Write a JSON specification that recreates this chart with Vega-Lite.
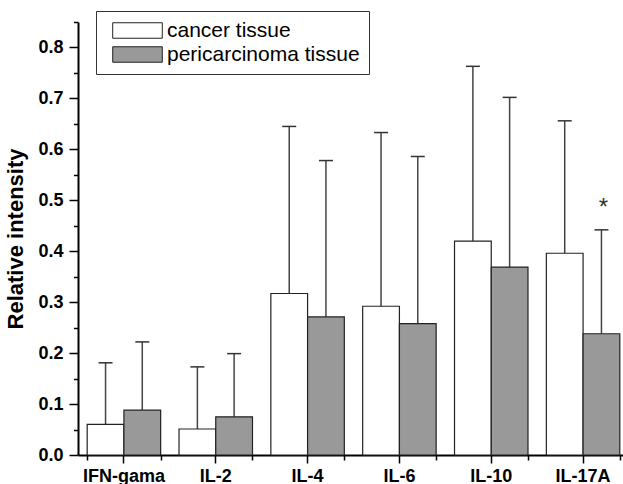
{
  "$schema": "https://vega.github.io/schema/vega-lite/v6.json",
  "autosize": "none",
  "width": 545,
  "height": 433,
  "padding": {"left": 78, "top": 22, "right": 0, "bottom": 29},
  "background": "white",
  "config": {
    "view": {"stroke": null},
    "font": "Liberation Sans"
  },
  "data": {
    "values": [
      {"cat": "IFN-gama", "group": "cancer tissue", "value": 0.060, "upper": 0.181},
      {"cat": "IFN-gama", "group": "pericarcinoma tissue", "value": 0.088, "upper": 0.222},
      {"cat": "IL-2", "group": "cancer tissue", "value": 0.051, "upper": 0.173},
      {"cat": "IL-2", "group": "pericarcinoma tissue", "value": 0.075, "upper": 0.199},
      {"cat": "IL-4", "group": "cancer tissue", "value": 0.317, "upper": 0.645},
      {"cat": "IL-4", "group": "pericarcinoma tissue", "value": 0.271, "upper": 0.578},
      {"cat": "IL-6", "group": "cancer tissue", "value": 0.292, "upper": 0.633},
      {"cat": "IL-6", "group": "pericarcinoma tissue", "value": 0.258, "upper": 0.586},
      {"cat": "IL-10", "group": "cancer tissue", "value": 0.420, "upper": 0.763},
      {"cat": "IL-10", "group": "pericarcinoma tissue", "value": 0.369, "upper": 0.702},
      {"cat": "IL-17A", "group": "cancer tissue", "value": 0.396, "upper": 0.656},
      {"cat": "IL-17A", "group": "pericarcinoma tissue", "value": 0.238, "upper": 0.442}
    ]
  },
  "layer": [
    {
      "mark": {"type": "rule", "color": "#444", "strokeWidth": 1.5},
      "encoding": {
        "x": {"field": "cat", "type": "nominal", "sort": null,
              "scale": {"range": [0, 551], "paddingInner": 0.2, "paddingOuter": 0.1},
              "axis": {"orient": "bottom", "title": null, "labels": false, "domain": false, "tickBand": "extent", "tickSize": 5, "tickWidth": 1.5, "tickColor": "black", "grid": false}},
        "xOffset": {"field": "group", "type": "nominal", "scale": {"paddingInner": 0, "paddingOuter": 0}},
        "y": {"field": "value", "type": "quantitative",
              "scale": {"domain": [0, 0.85], "nice": false, "zero": true},
              "axis": {"orient": "left", "title": null, "labels": false, "domain": false, "values": [0.05, 0.15, 0.25, 0.35, 0.45, 0.55, 0.65, 0.75, 0.85], "tickSize": 4.5, "tickWidth": 1.5, "tickColor": "black", "grid": false}},
        "y2": {"field": "upper"}
      }
    },
    {
      "mark": {"type": "tick", "color": "#333", "thickness": 1.5, "size": 14, "opacity": 1},
      "encoding": {
        "x": {"field": "cat", "type": "nominal", "sort": null, "axis": null},
        "xOffset": {"field": "group", "type": "nominal"},
        "y": {"field": "upper", "type": "quantitative", "axis": null}
      }
    },
    {
      "mark": {"type": "bar", "stroke": "#222", "strokeWidth": 1.2, "opacity": 1},
      "encoding": {
        "x": {"field": "cat", "type": "nominal", "sort": null,
              "axis": {"orient": "bottom", "title": null, "labelAngle": 0, "labelFont": "Liberation Sans", "labelFontWeight": "bold", "labelFontSize": 18, "labelColor": "black", "labelPadding": 4, "tickSize": 8, "tickWidth": 1.5, "tickColor": "black", "domain": true, "domainColor": "black", "domainWidth": 2, "grid": false}},
        "xOffset": {"field": "group", "type": "nominal"},
        "y": {"field": "value", "type": "quantitative",
              "axis": {"orient": "left", "title": "Relative intensity", "values": [0, 0.1, 0.2, 0.3, 0.4, 0.5, 0.6, 0.7, 0.8], "format": ".1f", "labelFont": "Liberation Sans", "labelFontWeight": "bold", "labelFontSize": 18, "labelColor": "black", "labelPadding": 6, "tickSize": 9, "tickWidth": 1.5, "tickColor": "black", "domain": true, "domainColor": "black", "domainWidth": 2, "grid": false, "titleFont": "Liberation Sans", "titleFontSize": 22, "titleFontWeight": "bold", "titleColor": "black", "titlePadding": 10}},
        "fill": {"field": "group", "type": "nominal",
                 "scale": {"domain": ["cancer tissue", "pericarcinoma tissue"], "range": ["#ffffff", "#999999"]},
                 "legend": {"orient": "none", "legendX": 18, "legendY": -11, "title": null, "strokeColor": "#333", "padding": 9, "symbolType": "M-3.2,-1H3.2V1H-3.2Z", "symbolSize": 240, "symbolStrokeColor": "#222", "symbolStrokeWidth": 1, "symbolOpacity": 1, "symbolOffset": 22, "labelOffset": 19, "labelFont": "Liberation Sans", "labelFontSize": 21, "labelColor": "black", "labelLimit": 400, "rowPadding": 2}}
      }
    },
    {
      "data": {"values": [{"cat": "IL-17A", "group": "pericarcinoma tissue", "y": 0.472, "label": "*"}]},
      "mark": {"type": "text", "font": "Liberation Sans", "fontSize": 24, "baseline": "alphabetic", "dx": 2, "color": "#333"},
      "encoding": {
        "x": {"field": "cat", "type": "nominal", "sort": null, "axis": null},
        "xOffset": {"field": "group", "type": "nominal"},
        "y": {"field": "y", "type": "quantitative", "axis": null},
        "text": {"field": "label"}
      }
    }
  ],
  "resolve": {"axis": {"x": "independent", "y": "independent"}}
}
